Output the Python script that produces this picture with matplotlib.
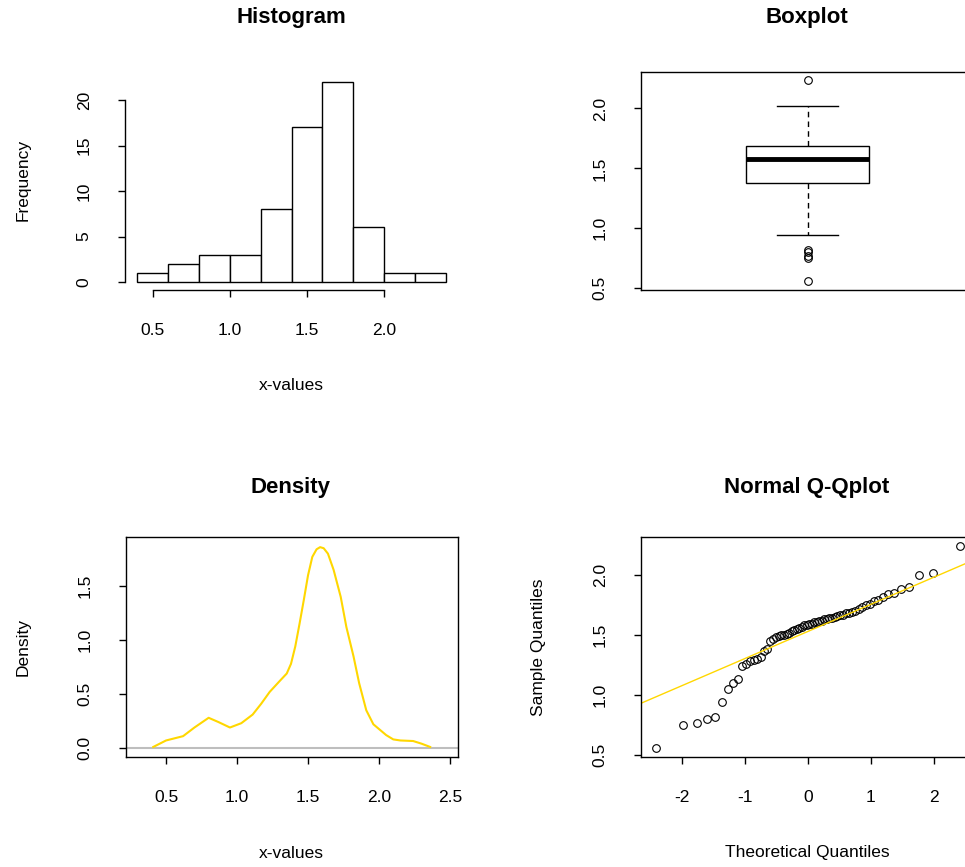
import numpy as np
from statistics import NormalDist
import matplotlib
matplotlib.use('Agg')
import matplotlib.pyplot as plt

plt.rcParams['font.family'] = ['Liberation Sans', 'DejaVu Sans']
plt.rcParams['axes.unicode_minus'] = False

x_values = [0.56, 0.75, 0.77, 0.80, 0.82, 0.94, 1.05, 1.10, 1.13,
            1.24, 1.26, 1.28, 1.29, 1.30, 1.32, 1.37, 1.38,
            1.45, 1.47, 1.48, 1.49, 1.50, 1.50, 1.51, 1.52, 1.53, 1.54, 1.55,
            1.56, 1.57, 1.58, 1.58, 1.59, 1.59,
            1.61, 1.61, 1.62, 1.62, 1.63, 1.63, 1.64, 1.64, 1.65, 1.66, 1.67,
            1.67, 1.68, 1.68, 1.69, 1.70, 1.72, 1.73, 1.75, 1.76, 1.78, 1.79,
            1.82, 1.84, 1.85, 1.88, 1.90, 2.00, 2.02, 2.24]
hist_edges = [0.4, 0.6, 0.8, 1.0, 1.2, 1.4, 1.6, 1.8, 2.0, 2.2, 2.4]
hist_counts = [1, 2, 3, 3, 8, 17, 22, 6, 1, 1]

# density curve
dens_x = [0.41, 0.50, 0.56, 0.62, 0.70, 0.80, 0.87, 0.95, 1.03, 1.11, 1.17, 1.23,
          1.30, 1.35, 1.38, 1.41, 1.44, 1.47, 1.50, 1.53, 1.56, 1.585, 1.61,
          1.64, 1.68, 1.73, 1.77, 1.82, 1.86, 1.91, 1.96, 2.05, 2.10, 2.15,
          2.24, 2.30, 2.36]
dens_y = [0.01, 0.07, 0.09, 0.11, 0.19, 0.28, 0.24, 0.19, 0.23, 0.31, 0.41, 0.52,
          0.62, 0.69, 0.78, 0.94, 1.15, 1.37, 1.60, 1.77, 1.84, 1.86, 1.85,
          1.80, 1.65, 1.40, 1.12, 0.85, 0.60, 0.35, 0.22, 0.12, 0.08, 0.07,
          0.065, 0.04, 0.01]

# box stats
box_q1, box_med, box_q3 = 1.38, 1.58, 1.69
box_lo, box_hi = 0.94, 2.02
box_out = [0.56, 0.75, 0.77, 0.80, 0.82, 2.24]

GOLD = '#FFD700'
W, H = 965, 867
fig = plt.figure(figsize=(W/100, H/100), dpi=100)

def ax_px(x0, y0, x1, y1):
    return fig.add_axes([x0/W, 1 - y1/H, (x1-x0)/W, (y1-y0)/H])

def style(ax):
    ax.tick_params(direction='out', length=5, width=1, labelsize=12.5, pad=19)
    ax.tick_params(axis='y', labelrotation=90, pad=19)
    for lab in ax.get_yticklabels():
        lab.set_va('center')
    for s in ax.spines.values():
        s.set_linewidth(1)

def title(x, y, s):
    fig.text(x/W, 1 - y/H, s, ha='center', va='center', fontsize=16, fontweight='bold')

def label(x, y, s, rot=0):
    fig.text(x/W, 1 - y/H, s, ha='center', va='center', fontsize=12.5, rotation=rot)

# Histogram
ax = ax_px(125, 74, 458, 290)
ax.bar(hist_edges[:-1], hist_counts, width=np.diff(hist_edges), align='edge',
       facecolor='white', edgecolor='black', linewidth=1)
ax.set_xlim(0.32, 2.48); ax.set_ylim(-0.88, 22.88)
ax.set_xticks([0.5, 1.0, 1.5, 2.0]); ax.set_yticks([0, 5, 10, 15, 20])
ax.set_xticklabels(['0.5', '1.0', '1.5', '2.0'])
for s in ['top', 'right']:
    ax.spines[s].set_visible(False)
ax.spines['bottom'].set_bounds(0.5, 2.0)
ax.spines['left'].set_bounds(0, 20)
style(ax)
title(291, 18, 'Histogram')
label(291, 385, 'x-values')
label(23, 180, 'Frequency', 90)

# Boxplot
ax = ax_px(641, 72, 974, 290)
ax.bxp([dict(med=box_med, q1=box_q1, q3=box_q3, whislo=box_lo, whishi=box_hi,
             fliers=box_out)], positions=[1], widths=0.37, patch_artist=True,
       boxprops=dict(facecolor='white', edgecolor='black', linewidth=1),
       medianprops=dict(color='black', linewidth=3.5),
       whiskerprops=dict(linestyle=(0, (4, 3)), color='black', linewidth=1),
       capprops=dict(color='black', linewidth=1), capwidths=0.185,
       flierprops=dict(marker='o', markerfacecolor='none', markeredgecolor='black',
                       markersize=5.5, markeredgewidth=0.8))
ax.set_xlim(0.5, 1.5); ax.set_ylim(0.483, 2.305)
ax.set_xticks([]); ax.set_yticks([0.5, 1.0, 1.5, 2.0])
style(ax)
title(807, 18, 'Boxplot')

# Density
ax = ax_px(126, 537, 458, 757)
ax.axhline(0, color='#BEBEBE', linewidth=1.5)
ax.plot(dens_x, dens_y, color=GOLD, linewidth=1.5)
ax.set_xlim(0.218, 2.556); ax.set_ylim(-0.083, 1.954)
ax.set_xticks([0.5, 1.0, 1.5, 2.0, 2.5]); ax.set_yticks([0, 0.5, 1.0, 1.5])
ax.set_yticklabels(['0.0', '0.5', '1.0', '1.5'])
style(ax)
title(291, 487, 'Density')
label(291, 853, 'x-values')
label(23, 647, 'Density', 90)

# Normal Q-Q plot
n = len(x_values)
theo = [NormalDist().inv_cdf((i + 0.5) / n) for i in range(n)]
q1, q3 = np.quantile(x_values, [0.25, 0.75])
z1, z3 = NormalDist().inv_cdf(0.25), NormalDist().inv_cdf(0.75)
slope = (q3 - q1) / (z3 - z1); icpt = q1 - slope * z1
ax = ax_px(641, 537, 974, 757)
ax.plot(theo, x_values, 'o', mfc='none', mec='black', ms=5.5, mew=0.8)
ax.axline((0, icpt), slope=slope, color=GOLD, linewidth=1)
ax.set_xlim(-2.65, 2.635); ax.set_ylim(0.483, 2.317)
ax.set_xticks([-2, -1, 0, 1, 2]); ax.set_yticks([0.5, 1.0, 1.5, 2.0])
style(ax)
title(807, 487, 'Normal Q-Qplot')
label(807, 853, 'Theoretical Quantiles')
label(538, 647, 'Sample Quantiles', 90)

fig.savefig('out.png', dpi=100)
